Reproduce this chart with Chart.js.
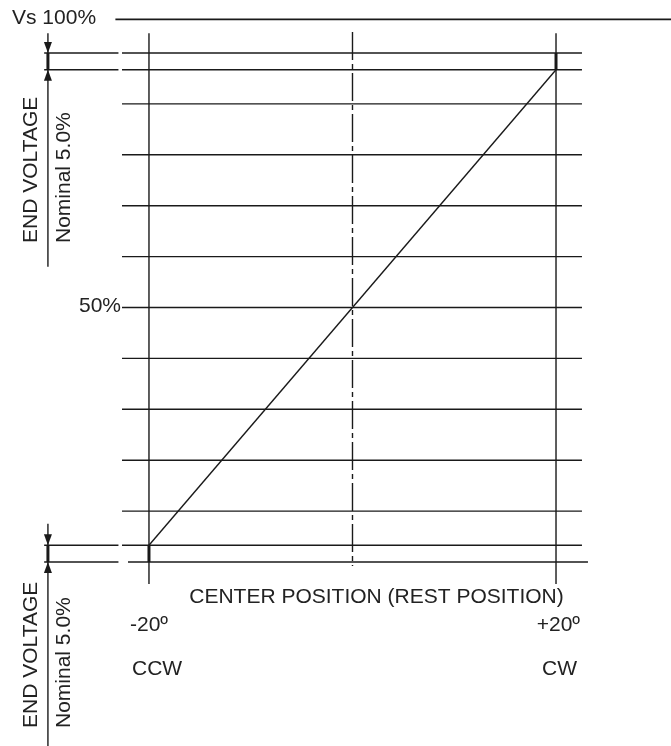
<!DOCTYPE html>
<html>
<head>
<meta charset="utf-8">
<script src="https://cdn.jsdelivr.net/npm/chart.js@4/dist/chart.umd.min.js"></script>
<style>
  html, body { margin: 0; padding: 0; background: #fff; }
  #chart { display: block; }
</style>
</head>
<body>
<canvas id="chart" width="671" height="746"></canvas>
<script>
// Shaft angle stops (degrees) and their labels
const anglePositions = [-20, 0, 20];
const angleLabels = ['-20º', '', '+20º'];
const directionLabels = ['CCW', '', 'CW'];

// Output voltage (% of Vs) - horizontal grid levels
const gridLevels = [10, 20, 30, 40, 50, 60, 70, 80, 90];
const upperEndLevels = [96.7, 100];
const lowerEndLevels = [0, 3.3];
const supplyLevel = 106.6;
const midLevel = 50;

// Output characteristic
const outputAngle = [-20, 20];
const outputVoltage = [3.3, 96.7];

// DOM elements
const canvas = document.getElementById('chart');

const INK = '#1a1a1a';
const FONT = '21px "Liberation Sans", Arial, sans-serif';

// Helper to make a plain segment dataset
function segment(x1, y1, x2, y2, width, dash) {
    return {
        data: [{ x: x1, y: y1 }, { x: x2, y: y2 }],
        borderColor: INK,
        borderWidth: width || 1.4,
        borderDash: dash || [],
        pointRadius: 0,
        showLine: true,
        fill: false
    };
}

const datasets = [];

// Horizontal grid levels
gridLevels.forEach(v => datasets.push(segment(-22.65, v, 22.55, v)));
upperEndLevels.forEach(v => datasets.push(segment(-22.65, v, 22.55, v)));
datasets.push(segment(-22.65, lowerEndLevels[1], 22.55, lowerEndLevels[1]));
datasets.push(segment(-22.06, lowerEndLevels[0], 23.14, lowerEndLevels[0]));

// Short extension segments next to the end voltage bracket
upperEndLevels.concat(lowerEndLevels).forEach(v => datasets.push(segment(-30.3, v, -23.0, v)));

// Vs 100% line
datasets.push(segment(-23.3, supplyLevel, 31.3, supplyLevel, 1.6));

// Vertical lines at the stops and the dash-dot center line
datasets.push(segment(anglePositions[0], 103.9, anglePositions[0], -4.3));
datasets.push(segment(anglePositions[2], 103.9, anglePositions[2], -4.3));
datasets.push(segment(anglePositions[1], 104.1, anglePositions[1], -0.8, 1.4, [28, 4, 5, 4]));

// Thick end voltage ticks
datasets.push(segment(anglePositions[0], lowerEndLevels[0], anglePositions[0], lowerEndLevels[1], 3));
datasets.push(segment(anglePositions[2], upperEndLevels[0], anglePositions[2], upperEndLevels[1], 3));
datasets.push(segment(-29.93, upperEndLevels[0], -29.93, upperEndLevels[1], 3));
datasets.push(segment(-29.93, lowerEndLevels[0], -29.93, lowerEndLevels[1], 3));

// Arrow shafts
datasets.push(segment(-29.93, 103.9, -29.93, upperEndLevels[1]));
datasets.push(segment(-29.93, 58, -29.93, upperEndLevels[0]));
datasets.push(segment(-29.93, 7.5, -29.93, lowerEndLevels[1]));
datasets.push(segment(-29.93, -36.2, -29.93, lowerEndLevels[0]));

// Output line
datasets.push(segment(outputAngle[0], outputVoltage[0], outputAngle[1], outputVoltage[1], 1.4));

// Plugin for arrowheads and text labels
const annotations = {
    id: 'annotations',
    afterDatasetsDraw(chart) {
        const ctx = chart.ctx;
        const xs = chart.scales.x;
        const ys = chart.scales.y;
        const ax = xs.getPixelForValue(-29.93);

        function arrowHead(yVal, dir) {
            const py = ys.getPixelForValue(yVal);
            ctx.beginPath();
            ctx.moveTo(ax, py);
            ctx.lineTo(ax - 4, py - dir * 11);
            ctx.lineTo(ax + 4, py - dir * 11);
            ctx.closePath();
            ctx.fill();
        }

        ctx.save();
        ctx.fillStyle = INK;
        arrowHead(upperEndLevels[1], 1);
        arrowHead(upperEndLevels[0], -1);
        arrowHead(lowerEndLevels[1], 1);
        arrowHead(lowerEndLevels[0], -1);

        ctx.font = FONT;
        ctx.fillStyle = '#222';
        ctx.textBaseline = 'alphabetic';

        ctx.textAlign = 'left';
        ctx.fillText('Vs 100%', 12, ys.getPixelForValue(supplyLevel) + 5);

        ctx.textAlign = 'right';
        ctx.fillText(midLevel + '%', 121, ys.getPixelForValue(midLevel) + 5);

        ctx.textAlign = 'center';
        ctx.fillText('CENTER POSITION (REST POSITION)', 376.5, 603);

        ctx.textAlign = 'left';
        ctx.fillText(angleLabels[0], xs.getPixelForValue(anglePositions[0]) - 19, 631);
        ctx.fillText(directionLabels[0], xs.getPixelForValue(anglePositions[0]) - 17, 675);
        ctx.textAlign = 'right';
        ctx.fillText(angleLabels[2], xs.getPixelForValue(anglePositions[2]) + 24, 631);
        ctx.fillText(directionLabels[2], xs.getPixelForValue(anglePositions[2]) + 21, 675);

        // Rotated bracket labels
        [243, 728].forEach(y0 => {
            ctx.save();
            ctx.translate(37, y0);
            ctx.rotate(-Math.PI / 2);
            ctx.textAlign = 'left';
            ctx.fillText('END VOLTAGE', 0, 0);
            ctx.restore();
            ctx.save();
            ctx.translate(70, y0);
            ctx.rotate(-Math.PI / 2);
            ctx.textAlign = 'left';
            ctx.fillText('Nominal 5.0%', 0, 0);
            ctx.restore();
        });
        ctx.restore();
    }
};

new Chart(canvas, {
    type: 'scatter',
    data: { datasets: datasets },
    options: {
        responsive: false,
        animation: false,
        devicePixelRatio: 1,
        layout: { padding: 0 },
        plugins: { legend: { display: false }, tooltip: { enabled: false } },
        scales: {
            x: { type: 'linear', display: false, min: -34.64, max: 31.30 },
            y: { type: 'linear', display: false, min: -36.15, max: 110.41 }
        }
    },
    plugins: [annotations]
});
</script>
</body>
</html>
